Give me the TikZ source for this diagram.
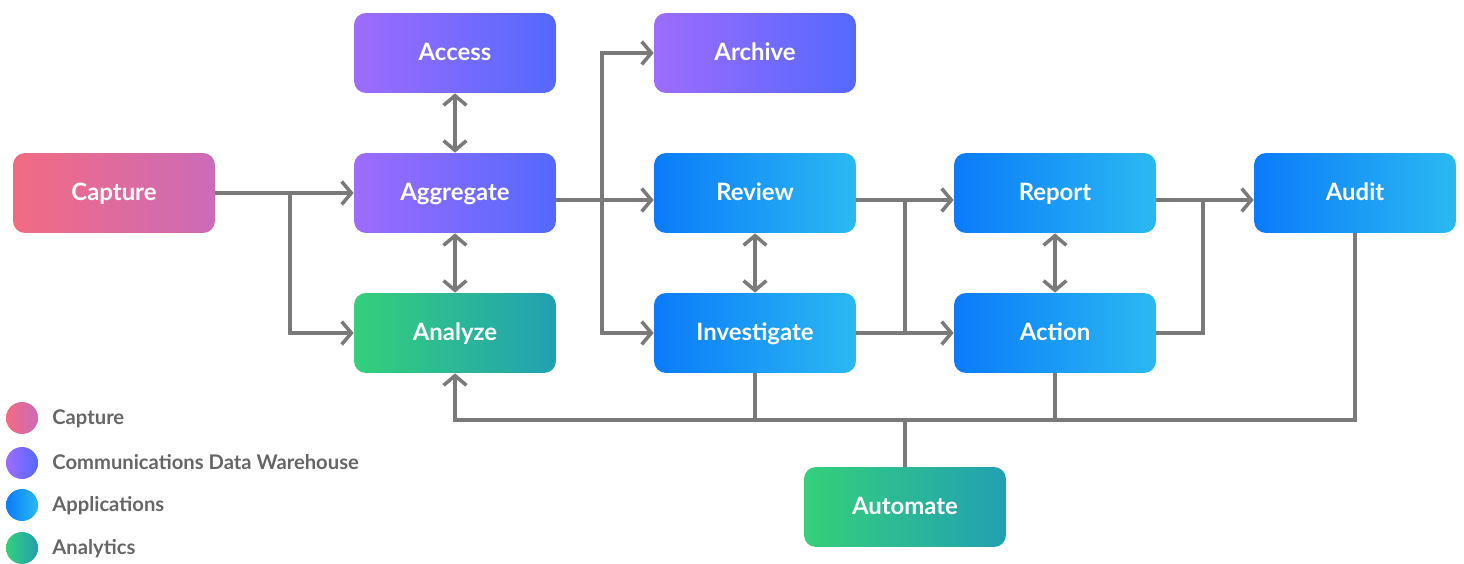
\documentclass[tikz,border=0pt]{standalone}
\usepackage{fontspec}
\setmainfont{Lato}
\usepackage{tikz}
\usetikzlibrary{arrows.meta}
\usetikzlibrary{positioning}

% Gradient colours
\definecolor{capL}{HTML}{F26B82}
\definecolor{capR}{HTML}{CB6BB8}
\definecolor{cdwL}{HTML}{9D6CFC}
\definecolor{cdwR}{HTML}{5469FF}
\definecolor{appL}{HTML}{0A7BFA}
\definecolor{appR}{HTML}{2BB9F1}
\definecolor{anaL}{HTML}{34D07A}
\definecolor{anaR}{HTML}{22A0B2}
\definecolor{wire}{HTML}{7A7A7A}
\definecolor{legtext}{HTML}{666666}

\tikzset{
  box/.style={rounded corners=0.24cm, minimum width=4.04cm, minimum height=1.6cm,
    text=white, font=\fontsize{13.6}{16}\selectfont\bfseries, shading angle=80,
    text height=1.75ex, text depth=0ex},
  capbox/.style={box, left color=capL, right color=capR},
  cdwbox/.style={box, left color=cdwL, right color=cdwR},
  appbox/.style={box, left color=appL, right color=appR},
  anabox/.style={box, left color=anaL, right color=anaR},
  wireline/.style={draw=wire, line width=2pt},
  flow/.style={wireline, -{Straight Barb[length=5.5pt,width=13pt]}},
  flowboth/.style={wireline, {Straight Barb[length=5.5pt,width=13pt]}-{Straight Barb[length=5.5pt,width=13pt]}},
  legdot/.style={circle, minimum size=0.64cm, inner sep=0pt},
  legname/.style={anchor=west, inner sep=0pt, text=legtext, text height=1.55ex, text depth=0ex,
    font=\fontsize{11.5}{13}\selectfont\bfseries}
}

\begin{document}
\begin{tikzpicture}[x=0.02cm, y=-0.02cm]
    \useasboundingbox (0,0) rectangle (1464,564);

    % Boxes
    \node[capbox] (capture)     at (114,193) {Capture};
    \node[cdwbox] (access)      at (455,53)  {Access};
    \node[cdwbox] (archive)     at (755,53)  {Archive};
    \node[cdwbox] (aggregate)   at (455,193) {Aggregate};
    \node[appbox] (review)      at (755,193) {Review};
    \node[appbox] (report)      at (1055,193) {Report};
    \node[appbox] (audit)       at (1355,193) {Audit};
    \node[anabox] (analyze)     at (455,333) {Analyze};
    \node[appbox] (investigate) at (755,333) {Investigate};
    \node[appbox] (action)      at (1055,333) {Action};
    \node[anabox] (automate)    at (905,507) {Automate};

    % Junctions
    \coordinate (capsplit) at (290,193);
    \coordinate (aggsplit) at (602,200);
    \coordinate (revsplit) at (905,200);
    \coordinate (repsplit) at (1203,200);
    \coordinate (bus)      at (905,420);

    % Capture
    \draw[flow] (capture.east) -- (aggregate.west);
    \draw[flow] (capsplit) |- (analyze.west);

    % Data warehouse
    \draw[flowboth] (access) -- (aggregate);
    \draw[flowboth] (aggregate) -- (analyze);
    \draw[flow] ([yshift=-0.14cm]aggregate.east) -- ([yshift=-0.14cm]review.west);
    \draw[flow] (aggsplit) |- (archive.west);
    \draw[flow] (aggsplit) |- (investigate.west);

    % Applications
    \draw[flowboth] (review) -- (investigate);
    \draw[flowboth] (report) -- (action);
    \draw[flow] ([yshift=-0.14cm]review.east) -- ([yshift=-0.14cm]report.west);
    \draw[flow] (investigate.east) -- (action.west);
    \draw[wireline] (revsplit) -- (revsplit |- action.west);
    \draw[flow] ([yshift=-0.14cm]report.east) -- ([yshift=-0.14cm]audit.west);
    \draw[wireline] (action.east) -| (repsplit);

    % Feedback to analytics
    \draw[flow] (audit.south) |- (bus -| analyze.south) -- (analyze.south);
    \draw[wireline] (investigate.south) -- (investigate.south |- bus);
    \draw[wireline] (action.south) -- (action.south |- bus);
    \draw[wireline] (automate.north) -- (bus);

    % Legend
    \node[legdot, left color=capL, right color=capR] (legcap) at (22,418) {};
    \node[legdot, left color=cdwL, right color=cdwR] (legcdw) at (22,463) {};
    \node[legdot, left color=appL, right color=appR] (legapp) at (22,505) {};
    \node[legdot, left color=anaL, right color=anaR] (legana) at (22,548) {};
    \node[legname] at (52,418) {Capture};
    \node[legname] at (52,463) {Communications Data Warehouse};
    \node[legname] at (52,505) {Applications};
    \node[legname] at (52,548) {Analytics};
  \end{tikzpicture}
\end{document}
